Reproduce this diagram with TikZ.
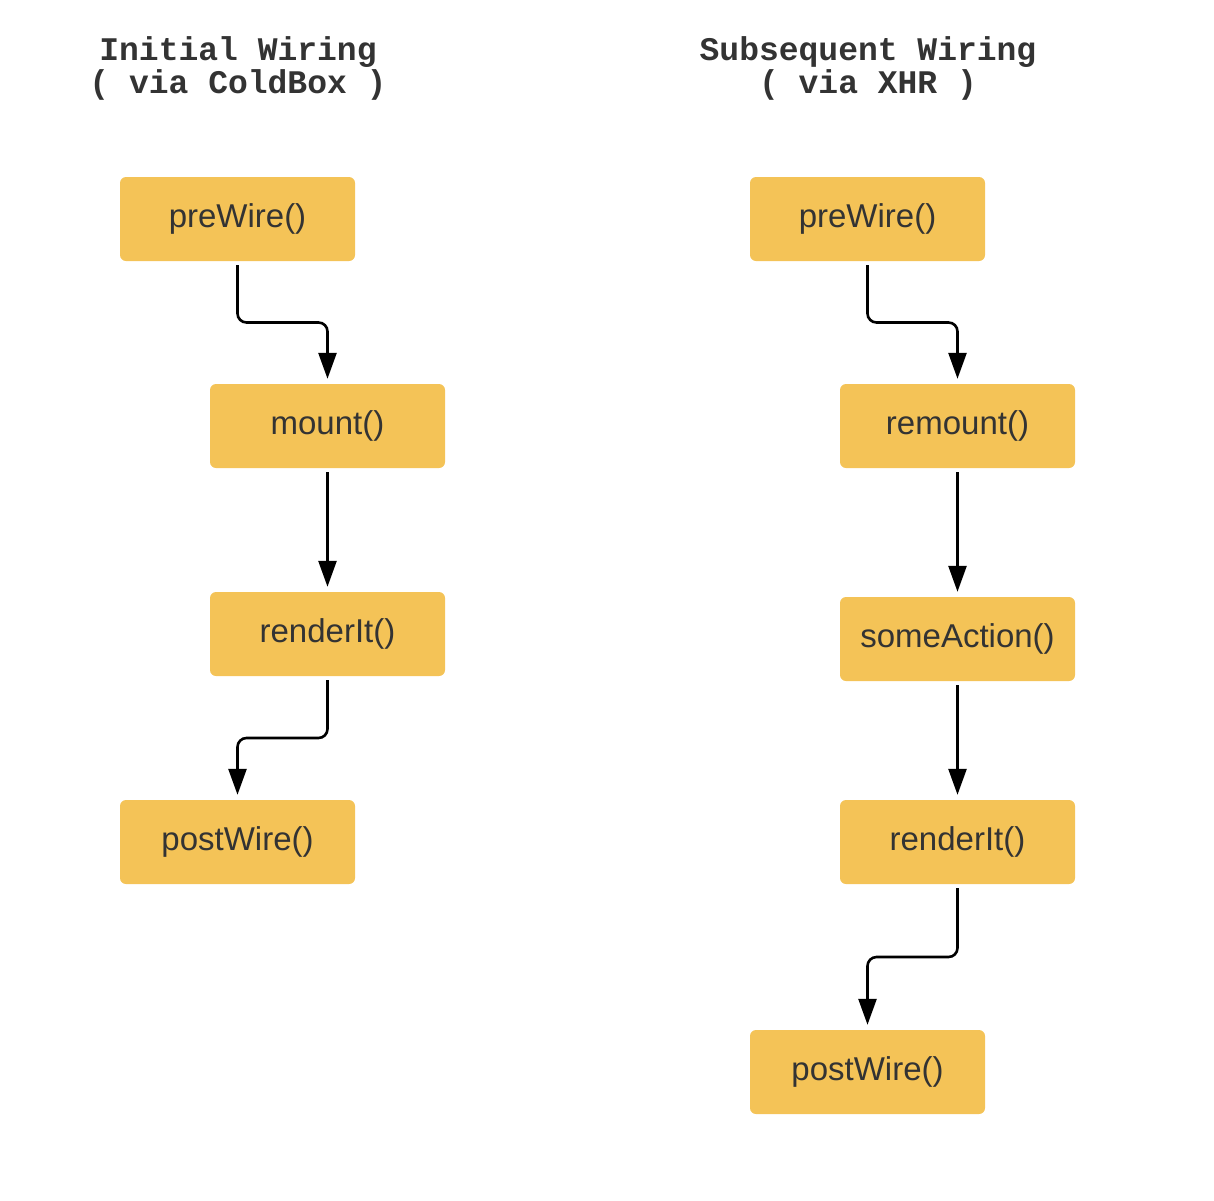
\documentclass[tikz,border=0pt]{standalone}
\usepackage{fontspec}
\setmainfont{Liberation Sans}
\newfontfamily\monofont{Liberation Mono}
\usetikzlibrary{arrows.meta,calc}
\definecolor{boxfill}{HTML}{F4C357}
\definecolor{inkgrey}{HTML}{333333}

\begin{document}
\begin{tikzpicture}[x=1pt,y=-1pt,
    title/.style={align=center, text=inkgrey,
    font=\monofont\bfseries\fontsize{33}{33}\selectfont},
    call/.style={rectangle, fill=boxfill, rounded corners=6pt,
    minimum width=235pt, minimum height=84pt, text=inkgrey,
    font=\fontsize{33}{39}\selectfont},
    wire/.style={line width=2.6pt, rounded corners=9pt,
    -{Triangle[length=26pt,width=18pt]}, shorten <=4pt, shorten >=5pt}]
    \useasboundingbox (0,0) rectangle (1214,1200);
    % titles
    \node[title] (tInit) at (238,68) {Initial Wiring\\( via ColdBox )};
    \node[title] (tSub) at (868,68) {Subsequent Wiring\\( via XHR )};
    % initial wiring
    \node[call] (preA) at (237.5,219) {preWire()};
    \node[call] (mount) at (327.5,426) {mount()};
    \node[call] (renderA) at (327.5,634) {renderIt()};
    \node[call] (postA) at (237.5,842) {postWire()};
    % subsequent wiring
    \node[call] (preB) at (867.5,219) {preWire()};
    \node[call] (remount) at (957.5,426) {remount()};
    \node[call] (action) at (957.5,639) {someAction()};
    \node[call] (renderB) at (957.5,842) {renderIt()};
    \node[call] (postB) at (867.5,1072) {postWire()};

    \draw[wire] (preA.south) |- ($(preA.south)!.5!(mount.north)$) -| (mount.north);
    \draw[wire] (mount) -- (renderA);
    \draw[wire] (renderA.south) |- ($(renderA.south)!.5!(postA.north)$) -| (postA.north);

    \draw[wire] (preB.south) |- ($(preB.south)!.5!(remount.north)$) -| (remount.north);
    \draw[wire] (remount) -- (action);
    \draw[wire] (action) -- (renderB);
    \draw[wire] (renderB.south) |- ($(renderB.south)!.5!(postB.north)$) -| (postB.north);
\end{tikzpicture}
\end{document}
